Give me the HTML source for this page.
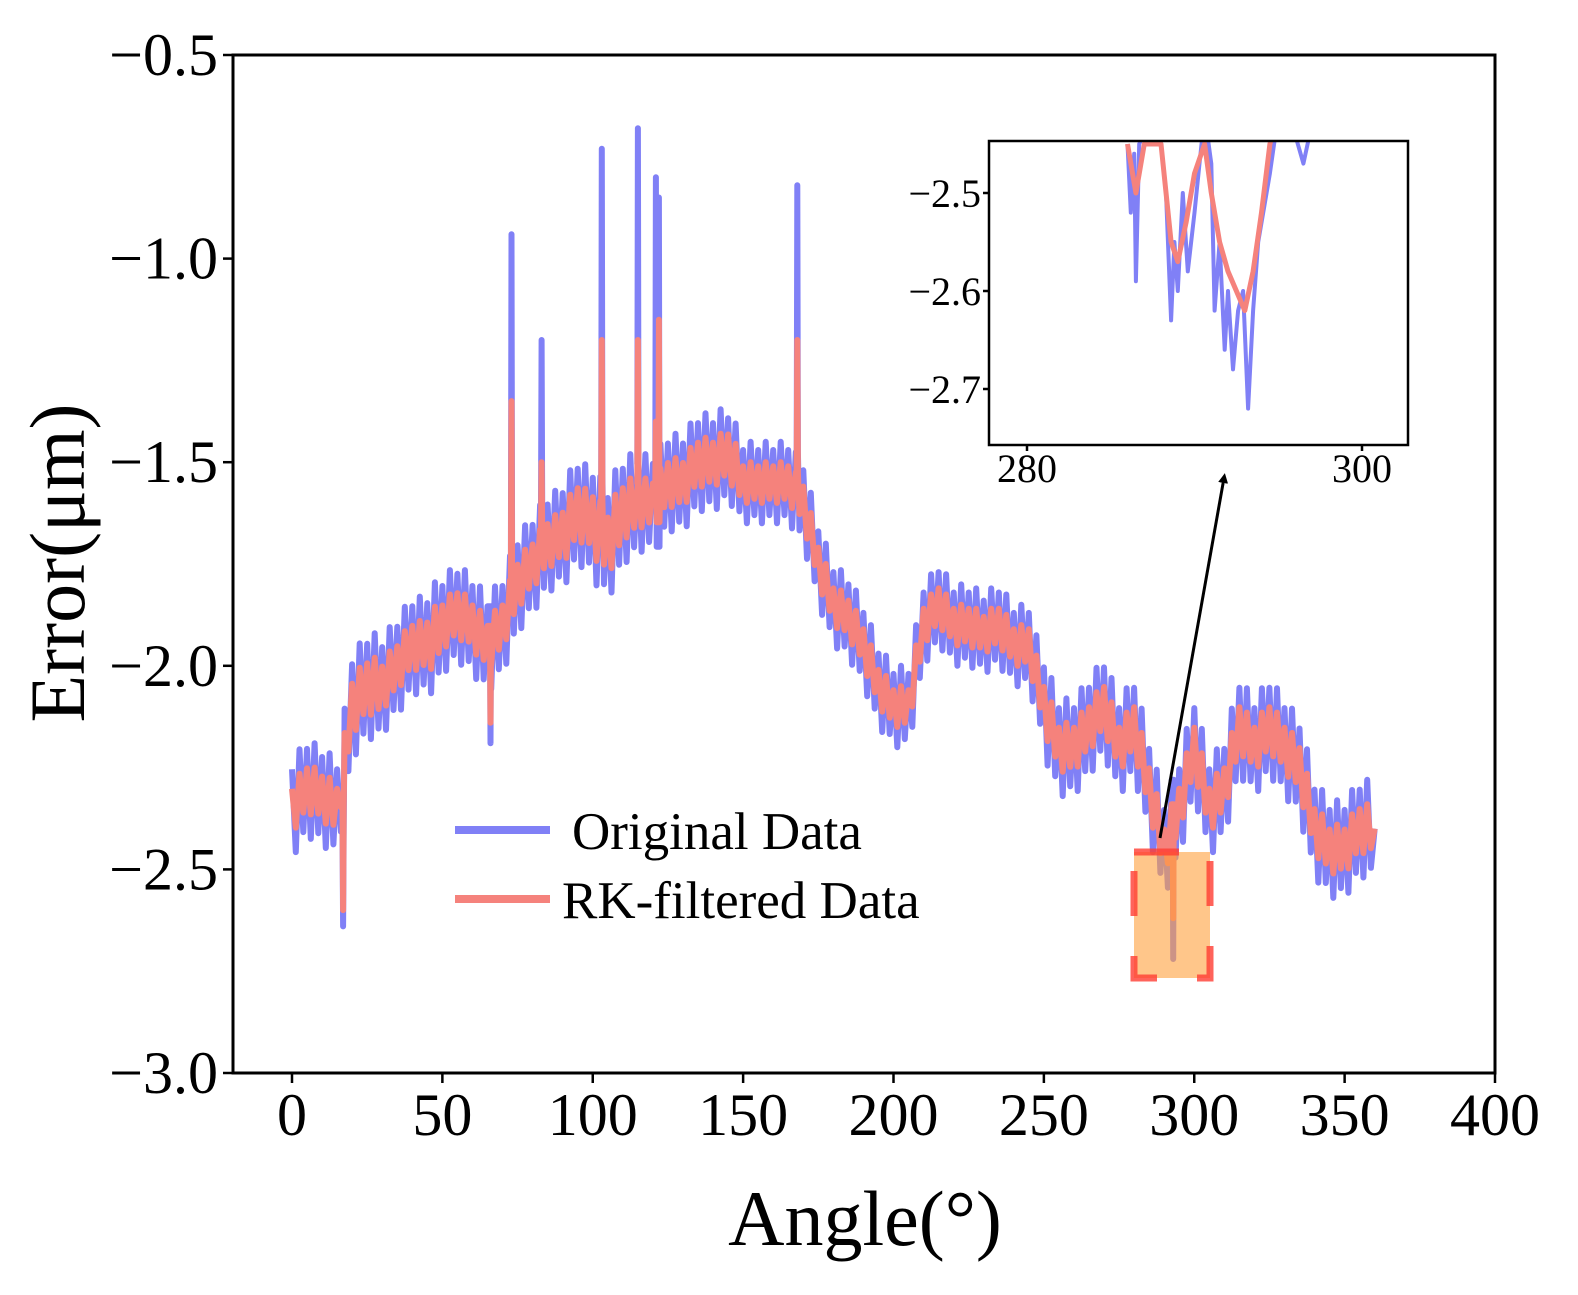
<!DOCTYPE html>
<html><head><meta charset="utf-8"><style>
body{margin:0;background:#fff}
svg{display:block;font-family:"Liberation Serif",serif}
</style></head><body>
<svg id="chart" width="1578" height="1295" viewBox="0 0 1578 1295">
<defs>
<clipPath id="mainClip"><rect x="234" y="56" width="1260" height="1016"/></clipPath>
<clipPath id="insetClip"><rect x="990" y="142" width="417" height="302"/></clipPath>
<marker id="arrowHead" markerWidth="10" markerHeight="10" refX="5" refY="5" orient="auto" markerUnits="userSpaceOnUse">
<path d="M0,0 L10,5 L0,10 z" fill="#000"/></marker>
</defs>
<g id="mainSeries" clip-path="url(#mainClip)"></g>
<rect x="233" y="55" width="1262" height="1018" fill="none" stroke="#000" stroke-width="3"/>
<g id="axes"></g>
<text x="865" y="1245" font-size="78" text-anchor="middle">Angle(°)</text>
<text transform="translate(84,563) rotate(-90)" font-size="78" text-anchor="middle">Error(μm)</text>
<g>
<line x1="455" y1="830" x2="550" y2="830" stroke="#8080f6" stroke-width="8"/>
<text x="572" y="849" font-size="53">Original Data</text>
<line x1="455" y1="899" x2="550" y2="899" stroke="#f5827c" stroke-width="8"/>
<text x="562" y="918" font-size="53">RK-filtered Data</text>
</g>
<rect x="1134" y="852" width="76" height="126" fill="rgba(255,160,60,0.6)" stroke="rgba(255,60,50,0.8)" stroke-width="7" stroke-dasharray="45,40"/>
<line x1="1160" y1="838" x2="1224" y2="478" stroke="#000" stroke-width="3" marker-end="url(#arrowHead)"/>
<rect x="989" y="141" width="419" height="304" fill="#fff"/>
<g id="insetSeries" clip-path="url(#insetClip)"></g>
<rect x="989" y="141" width="419" height="304" fill="none" stroke="#000" stroke-width="2.5"/>
<g id="insetAxes"></g>
</svg>
<script>
const angles=[0,5,10,15,20,25,30,35,40,45,50,55,60,65,70,75,80,85,90,95,100,105,110,115,120,125,130,135,140,145,150,155,160,165,170,175,180,185,190,195,200,205,210,215,220,225,230,235,240,245,250,255,260,265,270,275,280,285,290,295,300,305,310,315,320,325,330,335,340,345,350,355,360];
const center=[-2.35,-2.3,-2.32,-2.35,-2.1,-2.05,-2.05,-2.0,-1.95,-1.95,-1.9,-1.87,-1.9,-1.95,-1.9,-1.8,-1.75,-1.7,-1.68,-1.62,-1.65,-1.7,-1.62,-1.6,-1.6,-1.55,-1.55,-1.5,-1.5,-1.48,-1.55,-1.55,-1.55,-1.55,-1.6,-1.75,-1.85,-1.88,-1.95,-2.05,-2.1,-2.1,-1.9,-1.85,-1.9,-1.9,-1.92,-1.9,-1.95,-1.95,-2.1,-2.2,-2.2,-2.15,-2.1,-2.2,-2.15,-2.3,-2.45,-2.35,-2.2,-2.35,-2.3,-2.15,-2.2,-2.15,-2.2,-2.25,-2.4,-2.45,-2.45,-2.4,-2.4];
const origAmp=[0.12,0.12,0.12,0.12,0.13,0.13,0.12,0.12,0.12,0.13,0.12,0.12,0.12,0.12,0.12,0.12,0.12,0.12,0.13,0.13,0.14,0.14,0.13,0.12,0.12,0.12,0.12,0.12,0.12,0.11,0.1,0.1,0.1,0.1,0.1,0.1,0.1,0.1,0.1,0.1,0.1,0.1,0.1,0.1,0.1,0.1,0.1,0.1,0.1,0.1,0.12,0.12,0.12,0.12,0.12,0.12,0.12,0.12,0.12,0.12,0.12,0.12,0.12,0.12,0.12,0.12,0.12,0.12,0.12,0.12,0.12,0.12,0.12];
const filtAmp=[0.06,0.06,0.06,0.06,0.07,0.07,0.06,0.06,0.06,0.07,0.06,0.06,0.06,0.06,0.06,0.06,0.06,0.06,0.07,0.07,0.08,0.08,0.07,0.06,0.06,0.06,0.06,0.06,0.06,0.06,0.05,0.05,0.05,0.05,0.05,0.05,0.05,0.05,0.05,0.05,0.05,0.05,0.05,0.05,0.05,0.05,0.05,0.05,0.05,0.05,0.06,0.06,0.06,0.06,0.06,0.06,0.06,0.06,0.06,0.06,0.06,0.06,0.06,0.06,0.06,0.06,0.06,0.06,0.06,0.06,0.06,0.06,0.06];
const spikeAngles=[17,66,73,83,103,115,121,122,168,293];
const spikeOrig=[-2.64,-2.19,-0.94,-1.2,-0.73,-0.68,-0.8,-0.85,-0.82,-2.72];
const spikeFilt=[-2.6,-2.14,-1.35,-1.5,-1.2,-1.2,-1.4,-1.15,-1.2,-2.62];
const xTicks=[0,50,100,150,200,250,300,350,400];
const yTicks=[-0.5,-1.0,-1.5,-2.0,-2.5,-3.0];
const insetOrigAngles=[286.0,286.2,286.4,286.5,286.7,287.5,288,288.3,288.6,288.8,289,289.3,289.6,290,290.3,290.6,291,291.2,291.5,291.8,292,292.3,292.6,292.9,293.2,293.5,293.8,294.5,295,295.5,296,296.5,297];
const insetOrigVals=[-2.45,-2.52,-2.46,-2.59,-2.45,-2.42,-2.45,-2.5,-2.63,-2.55,-2.6,-2.5,-2.58,-2.52,-2.47,-2.42,-2.47,-2.62,-2.55,-2.66,-2.6,-2.68,-2.62,-2.6,-2.72,-2.62,-2.55,-2.48,-2.42,-2.4,-2.44,-2.47,-2.43];
const insetFiltAngles=[286,286.5,287,288,288.6,289,289.5,290,290.6,291,291.5,292,292.5,293,293.5,294,294.5,295,296];
const insetFiltVals=[-2.45,-2.5,-2.45,-2.45,-2.55,-2.57,-2.53,-2.48,-2.45,-2.5,-2.55,-2.58,-2.6,-2.62,-2.58,-2.52,-2.45,-2.42,-2.4];
const insetXTicks=[280,300];
const insetYTicks=[-2.5,-2.6,-2.7];

const NS='http://www.w3.org/2000/svg';
const xS=v=>292+(v/400)*(1495-292);
const yS=v=>55+((-0.5-v)/2.5)*(1073-55);
const ixS=v=>1027+(v-280)*(1362-1027)/20;
const iyS=v=>193+(-2.5-v)*980;

function buildPath(amp){
  let pts=[];
  for(let i=0;i<angles.length-1;i++){
    for(let k=0;k<4;k++){
      const t=k/4;
      const a=angles[i]+t*(angles[i+1]-angles[i]);
      const c=center[i]+t*(center[i+1]-center[i]);
      const s=(k%2===0)?1:-1;
      const m=(k===1||k===2)?1:0.8;
      pts.push([a,c+s*amp[i]*m]);
    }
  }
  pts.push([angles[angles.length-1],center[center.length-1]]);
  return pts;
}
function addSpikes(pts,spk){
  let out=pts.slice();
  for(let j=0;j<spikeAngles.length;j++){
    const a=spikeAngles[j];
    let idx=out.findIndex(p=>p[0]>a);
    if(idx<1)continue;
    const base=out[idx-1][1];
    out.splice(idx,0,[a-0.2,base],[a,spk[j]],[a+0.2,base]);
  }
  return out;
}
const g=document.getElementById('mainSeries');
function poly(parent,pts,sx,sy,color,w,name){
  const p=document.createElementNS(NS,'polyline');
  p.setAttribute('points',pts.map(q=>sx(q[0]).toFixed(1)+','+sy(q[1]).toFixed(1)).join(' '));
  p.setAttribute('fill','none');p.setAttribute('stroke',color);p.setAttribute('stroke-width',w);
  p.setAttribute('stroke-linejoin','round');
  
  
  parent.appendChild(p);
}
poly(g,addSpikes(buildPath(origAmp),spikeOrig),xS,yS,'#8080f6',6,'original-data-line');
poly(g,addSpikes(buildPath(filtAmp),spikeFilt),xS,yS,'#f5827c',6,'filtered-data-line');

const ax=document.getElementById('axes');
function txt(parent,x,y,s,size,anchor,name){
  const t=document.createElementNS(NS,'text');
  t.setAttribute('x',x);t.setAttribute('y',y);t.setAttribute('font-size',size);t.setAttribute('text-anchor',anchor);
  t.textContent=s;
  
  
  parent.appendChild(t);
}
function ln(parent,x1,y1,x2,y2,name){
  const l=document.createElementNS(NS,'line');
  l.setAttribute('x1',x1);l.setAttribute('y1',y1);l.setAttribute('x2',x2);l.setAttribute('y2',y2);
  l.setAttribute('stroke','#000');l.setAttribute('stroke-width',2.5);
  
  
  parent.appendChild(l);
}
const fmt=v=>(v<0?'\u2212':'')+Math.abs(v).toFixed(1);
xTicks.forEach(v=>{ln(ax,xS(v),1073,xS(v),1083,'x-tick');txt(ax,xS(v),1135,String(v),60,'middle','x-tick-label');});
yTicks.forEach(v=>{ln(ax,223,yS(v),233,yS(v),'y-tick');txt(ax,218,yS(v)+20,fmt(v),60,'end','y-tick-label');});

const ig=document.getElementById('insetSeries');
poly(ig,insetOrigAngles.map((a,i)=>[a,insetOrigVals[i]]),ixS,iyS,'#8080f6',4,'inset-original-line');
poly(ig,insetFiltAngles.map((a,i)=>[a,insetFiltVals[i]]),ixS,iyS,'#f5827c',5,'inset-filtered-line');
const ia=document.getElementById('insetAxes');
insetXTicks.forEach(v=>{ln(ia,ixS(v),445,ixS(v),451,'inset-x-tick');txt(ia,ixS(v),482,String(v),40,'middle','inset-x-tick-label');});
insetYTicks.forEach(v=>{ln(ia,983,iyS(v),989,iyS(v),'inset-y-tick');txt(ia,981,iyS(v)+14,fmt(v),40,'end','inset-y-tick-label');});
</script>
</body></html>
